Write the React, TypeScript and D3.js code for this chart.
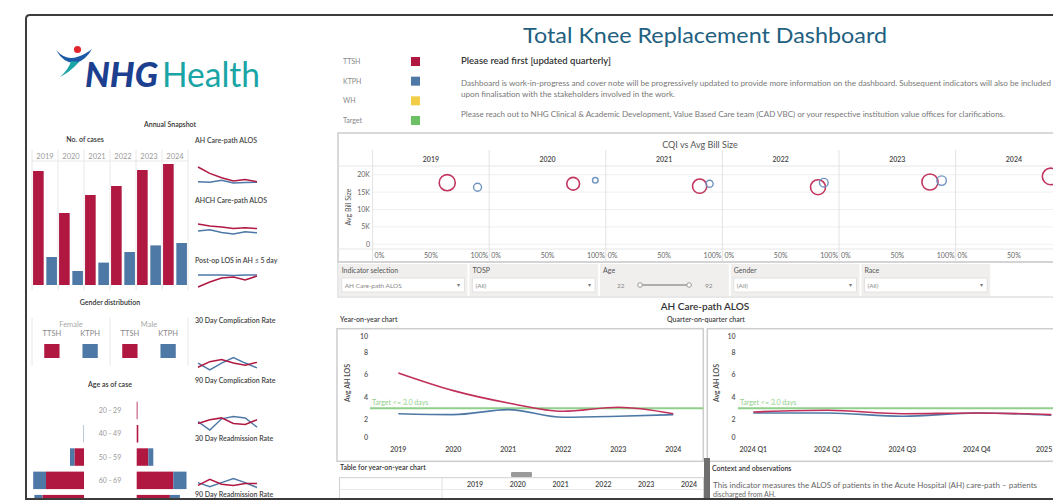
import * as d3 from "d3"
import { useRef, useEffect } from "react"

const years = ["2019", "2020", "2021", "2022", "2023", "2024"]
const casesTTSH = [570, 360, 450, 495, 575, 605]
const casesKTPH = [140, 70, 112, 165, 198, 210]

const legendNames = ["TTSH", "KTPH", "WH", "Target"]

const sparkTitles = ["AH Care-path ALOS", "AHCH Care-path ALOS", "Post-op LOS in AH ≤ 5 day", "30 Day Complication Rate", "90 Day Complication Rate", "30 Day Readmission Rate", "90 Day Readmission Rate"]
const sparkTTSH = [
  [6.2, 4.6, 3.5, 2.7, 3.1, 2.5],
  [14.5, 14.0, 13.7, 13.3, 13.5, 13.3],
  [62, 72, 80, 82, 76, 84],
  [1.2, 2.0, 2.3, 1.8, 1.5, 1.9],
  [2.6, 3.4, 3.8, 2.6, 2.4, 3.4],
  [2.0, 3.5, 2.3, 2.0, 2.5, 2.5],
  [3.1, 4.2, 3.6, 3.0, 3.3, 3.4],
]
const sparkKTPH = [
  [2.5, 2.4, 2.9, 2.2, 2.3, 2.4],
  [12.7, 13.0, 12.3, 11.9, 12.5, 12.2],
  [86, 86, 86, 85, 86, 86],
  [1.8, 0.8, 1.8, 2.6, 1.8, 1.1],
  [3.0, 1.2, 3.6, 4.1, 3.8, 1.8],
  [2.7, 1.7, 2.7, 3.7, 2.7, 1.5],
  [3.8, 2.9, 3.9, 4.4, 3.6, 2.8],
]

const genders = ["Female", "Male"]
const institutions = ["TTSH", "KTPH"]

const ageGroups = ["20 - 29", "40 - 49", "50 - 59", "60 - 69", "70 - 79"]
const femaleTTSH = [0, 0, 48, 190, 208]
const femaleKTPH = [0, 2, 22, 64, 40]
const maleTTSH = [4, 8, 58, 183, 166]
const maleKTPH = [0, 0, 25, 66, 50]

const cqiTTSH = [0.64, 0.72, 0.805, 0.82, 0.78, 0.815]
const cqiKTPH = [0.9, 0.91, 0.89, 0.87, 0.88, 0.9]
const billTTSH = [17700, 17400, 16700, 16400, 17900, 19500]
const billKTPH = [16400, 18400, 17400, 17700, 18300, 18000]
const billTicks = [0, 5000, 10000, 15000, 20000]
const cqiTicks = [0, 0.5, 1]

const filterNames = ["Indicator selection", "TOSP", "Age", "Gender", "Race"]
const filterValues = ["AH Care-path ALOS", "(All)", "", "(All)", "(All)"]
const ageRange = [22, 92]

const alosTTSH = [6.17, 4.58, 3.47, 2.72, 3.08, 2.5]
const alosKTPH = [2.5, 2.42, 2.87, 2.18, 2.27, 2.42]
const quarters = ["2024 Q1", "2024 Q2", "2024 Q3", "2024 Q4", "2025 Q1"]
const qAlosTTSH = [2.66, 2.81, 2.5, 2.57, 2.42]
const qAlosKTPH = [2.57, 2.57, 2.27, 2.57, 2.36]
const alosTicks = [0, 2, 4, 6, 8, 10]
const alosTarget = 3

const RED = "#b01842"
const BLUE = "#4e79a7"
const YELLOW = "#f1ce46"
const GREEN = "#6cbf62"
const legendColors = [RED, BLUE, YELLOW, GREEN]

export default function App() {
  const ref = useRef<SVGSVGElement>(null)

  useEffect(() => {
    const svg = d3.select(ref.current)
    svg.selectAll("*").remove()
    svg.attr("width", 1053).attr("height", 504)
      .style("font-family", "Lato, 'Open Sans', sans-serif")

    const frameBottom = 499
    svg.append("defs").append("clipPath").attr("id", "frame")
      .append("rect").attr("x", 27).attr("y", 15).attr("width", 1030).attr("height", frameBottom - 16)

    const root = svg.append("g").attr("clip-path", "url(#frame)")

    const text = (g: any, x: number, y: number, s: string, size = 7, fill = "#555", anchor = "start", weight: any = "normal") =>
      g.append("text").attr("x", x).attr("y", y).attr("font-size", size).attr("fill", fill)
        .attr("text-anchor", anchor).attr("font-weight", weight).text(s)

    // logo
    const logo = root.append("g")
    logo.append("path").attr("d", "M56,50 Q66,61 77,57 Q86,54 92,49 Q86,60 76,63 Q64,64 56,50 Z").attr("fill", "#1c5aa8")
    logo.append("path").attr("d", "M71,61 Q69,69 60,77 Q70,72 79,62 Z").attr("fill", "#19a5a5")
    logo.append("circle").attr("cx", 77.5).attr("cy", 49.5).attr("r", 3.6).attr("fill", "#e3262e")
    logo.append("text").attr("x", 85).attr("y", 87).attr("font-size", 34).attr("font-weight", 900)
      .attr("font-style", "italic").attr("fill", "#1d3f8f").attr("textLength", 73).attr("lengthAdjust", "spacingAndGlyphs").text("NHG")
    logo.append("text").attr("x", 162).attr("y", 87).attr("font-size", 34).attr("fill", "#19a5a5")
      .attr("textLength", 98).attr("lengthAdjust", "spacingAndGlyphs").text("Health")

    text(root, 170, 127, "Annual Snapshot", 7, "#333", "middle", 600)

    // No. of cases
    const xb = d3.scaleBand().domain(years).range([32, 188])
    const xi = d3.scaleBand().domain(institutions).range([0, xb.bandwidth()]).paddingInner(0.2).paddingOuter(0.08)
    const yb = d3.scaleLinear().domain([0, 700]).range([285, 145])
    text(root, 85, 142, "No. of cases", 7, "#333", "middle", 600)
    const bars = root.append("g")
    years.forEach((yr) => {
      bars.append("line").attr("x1", xb(yr)!).attr("x2", xb(yr)!).attr("y1", 150).attr("y2", 290).attr("stroke", "#e8e8e8")
      text(bars, xb(yr)! + xb.bandwidth() / 2, 158.5, yr, 7.5, "#9a9a9a", "middle")
    })
    bars.append("line").attr("x1", 188).attr("x2", 188).attr("y1", 150).attr("y2", 290).attr("stroke", "#e8e8e8")
    bars.append("line").attr("x1", 32).attr("x2", 188).attr("y1", 161).attr("y2", 161).attr("stroke", "#e8e8e8")
    bars.selectAll(".t").data(years).join("rect")
      .attr("x", (d) => xb(d)! + xi("TTSH")!).attr("width", xi.bandwidth())
      .attr("y", (_, i) => yb(casesTTSH[i])).attr("height", (_, i) => yb(0) - yb(casesTTSH[i])).attr("fill", RED)
    bars.selectAll(".k").data(years).join("rect")
      .attr("x", (d) => xb(d)! + xi("KTPH")!).attr("width", xi.bandwidth())
      .attr("y", (_, i) => yb(casesKTPH[i])).attr("height", (_, i) => yb(0) - yb(casesKTPH[i])).attr("fill", BLUE)

    // sparklines
    const labelY = [140, 200, 260, 320, 380, 438, 494]
    const sparkTop = [167, 224, 275, 357.5, 416.5, 478.5, 540]
    const sparkBottom = [183, 234, 287, 370, 430, 487.5, 552]
    const xs = d3.scalePoint().domain(years).range([198, 257])
    sparkTitles.forEach((t, i) => {
      text(root, 195, labelY[i] + 2.5, t, 7, "#444", "start", 600)
      if (sparkTop[i] > frameBottom) return
      const ys = d3.scaleLinear().domain(d3.extent([...sparkTTSH[i], ...sparkKTPH[i]]) as [number, number]).range([sparkBottom[i], sparkTop[i]])
      const line = d3.line<number>().x((_, j) => xs(years[j])!).y((d) => ys(d))
      root.append("path").attr("d", line(sparkKTPH[i])).attr("fill", "none").attr("stroke", BLUE).attr("stroke-width", 1.5)
      root.append("path").attr("d", line(sparkTTSH[i])).attr("fill", "none").attr("stroke", RED).attr("stroke-width", 1.5)
    })

    // gender
    text(root, 110, 305, "Gender distribution", 7, "#333", "middle", 600)
    const xg = d3.scaleBand().domain(genders).range([32, 188])
    const xgi = d3.scaleBand().domain(institutions).range([0, xg.bandwidth()]).paddingInner(0.6).paddingOuter(0.32)
    ;[32, 110, 188].forEach((x) => root.append("line").attr("x1", x).attr("x2", x).attr("y1", 318).attr("y2", 366).attr("stroke", "#e8e8e8"))
    genders.forEach((g) => {
      text(root, xg(g)! + xg.bandwidth() / 2, 326.5, g, 7.5, "#aaa", "middle")
      institutions.forEach((ins, k) => {
        const cx = xg(g)! + xgi(ins)!
        text(root, cx + xgi.bandwidth() / 2, 335.5, ins, 7.5, "#888", "middle")
        root.append("rect").attr("x", cx).attr("y", 344).attr("width", xgi.bandwidth()).attr("height", 14)
          .attr("fill", k === 0 ? RED : BLUE)
      })
    })

    // age pyramid
    text(root, 110, 387, "Age as of case", 7, "#333", "middle", 600)
    const ya = d3.scaleBand().domain(ageGroups).range([398.8, 515.3]).paddingInner(0.25).paddingOuter(0.125)
    const xa = d3.scaleLinear().domain([0, 250]).range([0, 50])
    const leftX = 84, rightX = 136.7
    ageGroups.forEach((a, i) => {
      const y = ya(a)!, h = ya.bandwidth()
      if (y + h / 2 < frameBottom) text(root, 110, y + h / 2 + 2.5, a, 7, "#999", "middle")
      root.append("rect").attr("x", leftX - xa(femaleTTSH[i])).attr("y", y).attr("width", xa(femaleTTSH[i])).attr("height", h).attr("fill", RED)
      root.append("rect").attr("x", leftX - xa(femaleTTSH[i] + femaleKTPH[i])).attr("y", y).attr("width", xa(femaleKTPH[i])).attr("height", h).attr("fill", BLUE)
      root.append("rect").attr("x", rightX).attr("y", y).attr("width", xa(maleTTSH[i])).attr("height", h).attr("fill", RED)
      root.append("rect").attr("x", rightX + xa(maleTTSH[i])).attr("y", y).attr("width", xa(maleKTPH[i])).attr("height", h).attr("fill", BLUE)
    })

    // title + legend + notes
    root.append("text").attr("x", 705).attr("y", 43).attr("font-size", 22).attr("fill", "#23607f")
      .attr("text-anchor", "middle").attr("textLength", 364).attr("lengthAdjust", "spacingAndGlyphs").text("Total Knee Replacement Dashboard")
    const yl = d3.scalePoint().domain(legendNames).range([61.5, 120.5])
    legendNames.forEach((n, i) => {
      text(root, 343, yl(n)! + 2.5, n, 7, "#888")
      root.append("rect").attr("x", 411).attr("y", yl(n)! - 4.5).attr("width", 9).attr("height", 9).attr("fill", legendColors[i])
    })
    text(root, 461, 64, "Please read first [updated quarterly]", 9.5, "#333", "start", 600)
    const notes = [
      ["Dashboard is work-in-progress and cover note will be progressively updated to provide more information on the dashboard. Subsequent indicators will also be included", 85.5, 590],
      ["upon finalisation with the stakeholders involved in the work.", 96.5, 214],
      ["Please reach out to NHG Clinical & Academic Development, Value Based Care team (CAD VBC) or your respective institution value offices for clarifications.", 116.5, 544],
    ] as [string, number, number][]
    notes.forEach(([s, y, w]) => text(root, 461, y, s, 7, "#777").attr("textLength", w).attr("lengthAdjust", "spacingAndGlyphs"))

    // CQI vs Avg Bill Size
    const cq = root.append("g")
    cq.append("rect").attr("x", 338).attr("y", 133).attr("width", 730).attr("height", 129).attr("fill", "none").attr("stroke", "#cdcdcd").attr("stroke-width", 1.5)
    text(cq, 700, 147.5, "CQI vs Avg Bill Size", 9, "#555", "middle")
    const xc = d3.scaleBand().domain(years).range([372.6, 372.6 + 6 * 116.6])
    const xcq = d3.scaleLinear().domain([0, 1]).range([0, xc.bandwidth()])
    const yBill = d3.scaleLinear().domain([0, 20000]).range([244.3, 174.7])
    const rBub = d3.scaleSqrt().domain([0, 700]).range([0, 8.9])
    billTicks.forEach((t) => {
      cq.append("line").attr("x1", 372.6).attr("x2", 1068).attr("y1", yBill(t)).attr("y2", yBill(t)).attr("stroke", "#efefef")
      text(cq, 370, yBill(t) + 2.5, d3.format("~s")(t).replace("k", "K"), 7, "#666", "end")
    })
    text(cq, 0, 0, "Avg Bill Size", 7, "#555", "middle").attr("transform", "translate(351,207) rotate(-90)")
    cq.append("line").attr("x1", 338).attr("x2", 1068).attr("y1", 166).attr("y2", 166).attr("stroke", "#e6e6e6")
    cq.append("line").attr("x1", 338).attr("x2", 1068).attr("y1", 249).attr("y2", 249).attr("stroke", "#e6e6e6")
    years.forEach((yr, i) => {
      const x0 = xc(yr)!
      cq.append("line").attr("x1", x0).attr("x2", x0).attr("y1", 150).attr("y2", 262).attr("stroke", "#e3e3e3")
      text(cq, x0 + xc.bandwidth() / 2, 162, yr, 7, "#444", "middle", 600)
      cqiTicks.forEach((t, k) => {
        const anchor = k === 0 ? "start" : k === cqiTicks.length - 1 ? "end" : "middle"
        const dx = k === 0 ? 2 : k === cqiTicks.length - 1 ? -1 : 0
        if (x0 + xcq(t) + dx < 1053) text(cq, x0 + xcq(t) + dx, 258, d3.format(".0%")(t), 7, "#666", anchor)
      })
      cq.append("circle").attr("cx", x0 + xcq(cqiTTSH[i])).attr("cy", yBill(billTTSH[i])).attr("r", rBub(casesTTSH[i]))
        .attr("fill", "none").attr("stroke", "#c2355e").attr("stroke-width", 1.6)
      cq.append("circle").attr("cx", x0 + xcq(cqiKTPH[i])).attr("cy", yBill(billKTPH[i])).attr("r", rBub(casesKTPH[i]))
        .attr("fill", "none").attr("stroke", "#6f93bf").attr("stroke-width", 1.4)
    })

    // filters
    const fl = root.append("g")
    fl.append("rect").attr("x", 338).attr("y", 262).attr("width", 730).attr("height", 35).attr("fill", "none").attr("stroke", "#d0d0d0")
    const xf = d3.scaleBand().domain(filterNames).range([338.7, 990.2]).paddingInner(0.015)
    filterNames.forEach((n, i) => {
      const x0 = xf(n)!, w = xf.bandwidth()
      fl.append("rect").attr("x", x0).attr("y", 264).attr("width", w).attr("height", 32).attr("fill", "#f0efed")
      text(fl, x0 + 3, 273, n, 7, "#555")
      if (n === "Age") {
        text(fl, x0 + 17, 287.5, String(ageRange[0]), 6.5, "#888")
        fl.append("line").attr("x1", x0 + 40).attr("x2", x0 + 89).attr("y1", 285).attr("y2", 285).attr("stroke", "#999").attr("stroke-width", 1.5)
        ;[x0 + 40, x0 + 89].forEach((cx) => fl.append("circle").attr("cx", cx).attr("cy", 285).attr("r", 2.3).attr("fill", "#fff").attr("stroke", "#999"))
        text(fl, x0 + 105, 287.5, String(ageRange[1]), 6.5, "#888")
      } else {
        fl.append("rect").attr("x", x0 + 3).attr("y", 278).attr("width", w - 6).attr("height", 14).attr("fill", "#fff").attr("stroke", "#e2e2e2")
        text(fl, x0 + 6, 287.5, filterValues[i], 6.5, "#888")
        text(fl, x0 + w - 9, 287, "▾", 6, "#777", "middle")
      }
    })

    // AH Care-path ALOS line charts
    text(root, 705, 309.5, "AH Care-path ALOS", 10, "#333", "middle", 600)
    text(root, 340, 322, "Year-on-year chart", 7, "#444", "start", 600)
    text(root, 667, 322, "Quarter-on-quarter chart", 7, "#444", "start", 600)
    const yAlos = d3.scaleLinear().domain([0, 10]).range([441.5, 330.4])
    const drawPanel = (px: number, pw: number, labelX: number, titleX: number, targetX: number, xs2: any, cats: string[], ttsh: number[], ktph: number[]) => {
      const g = root.append("g")
      g.append("rect").attr("x", px).attr("y", 328.7).attr("width", pw).attr("height", 132.6).attr("fill", "none").attr("stroke", "#cdcdcd").attr("stroke-width", 1.5)
      alosTicks.forEach((t) => text(g, labelX, Math.min(Math.max(yAlos(t) + 2.5, 339), 440), String(t), 7, "#555", "end", 600))
      text(g, 0, 0, "Avg AH LOS", 7, "#444", "middle", 600).attr("transform", `translate(${titleX},383) rotate(-90)`)
      cats.forEach((c) => text(g, Math.min(xs2(c), 1036), 452, c, 7, "#444", xs2(c) > 1036 ? "start" : "middle", 600))
      g.append("line").attr("x1", targetX).attr("x2", px + pw).attr("y1", yAlos(alosTarget)).attr("y2", yAlos(alosTarget)).attr("stroke", "#8fd08a").attr("stroke-width", 2)
      text(g, targetX + 2, yAlos(alosTarget) - 3, "Target <= 3.0 days", 7, "#8fd08a")
      const line = d3.line<number>().x((_, j) => xs2(cats[j])).y((d) => yAlos(d)).curve(d3.curveMonotoneX)
      g.append("path").attr("d", line(ktph)).attr("fill", "none").attr("stroke", BLUE).attr("stroke-width", 1.6)
      g.append("path").attr("d", line(ttsh)).attr("fill", "none").attr("stroke", "#c0305a").attr("stroke-width", 1.6)
    }
    const xYear = d3.scalePoint().domain(years).range([398.3, 673.3])
    const xQuarter = d3.scalePoint().domain(quarters).range([753.3, 1051.3])
    drawPanel(337, 366.3, 368, 350, 370, xYear, years, alosTTSH, alosKTPH)
    drawPanel(707.3, 360, 735.5, 719, 738, xQuarter, quarters, qAlosTTSH, qAlosKTPH)

    // table + context
    text(root, 340, 470, "Table for year-on-year chart", 7, "#333", "start", 600)
    root.append("rect").attr("x", 339.6).attr("y", 477.7).attr("width", 364).attr("height", 30).attr("fill", "none").attr("stroke", "#cfcfcf")
    root.append("line").attr("x1", 442).attr("x2", 442).attr("y1", 478).attr("y2", 500).attr("stroke", "#e0e0e0")
    root.append("line").attr("x1", 340).attr("x2", 703).attr("y1", 489.5).attr("y2", 489.5).attr("stroke", "#eaeaea")
    const xt = d3.scalePoint().domain(years).range([475, 689])
    years.forEach((yr) => text(root, xt(yr)!, 487, yr, 7, "#444", "middle", 600))
    root.append("rect").attr("x", 511).attr("y", 472).attr("width", 21).attr("height", 5).attr("rx", 1).attr("fill", "#9a9a9a")
    root.append("rect").attr("x", 704).attr("y", 458).attr("width", 6).attr("height", 42).attr("fill", "#6e6e6e")
    text(root, 712, 470.5, "Context and observations", 7, "#333", "start", 600)
    text(root, 713, 487.5, "This indicator measures the ALOS of patients in the Acute Hospital (AH) care-path – patients", 7, "#666")
      .attr("textLength", 324).attr("lengthAdjust", "spacingAndGlyphs")
    text(root, 713, 496.5, "discharged from AH.", 7, "#666")

    // frame
    svg.append("path").attr("d", `M1060,15 H30 Q26,15 26,19 V${frameBottom} H1060`).attr("fill", "none").attr("stroke", "#3c3c3c").attr("stroke-width", 2)
  }, [])

  return (
    <div style={{ position: "absolute", left: 0, top: 0 }}>
      <svg ref={ref}></svg>
    </div>
  )
}
